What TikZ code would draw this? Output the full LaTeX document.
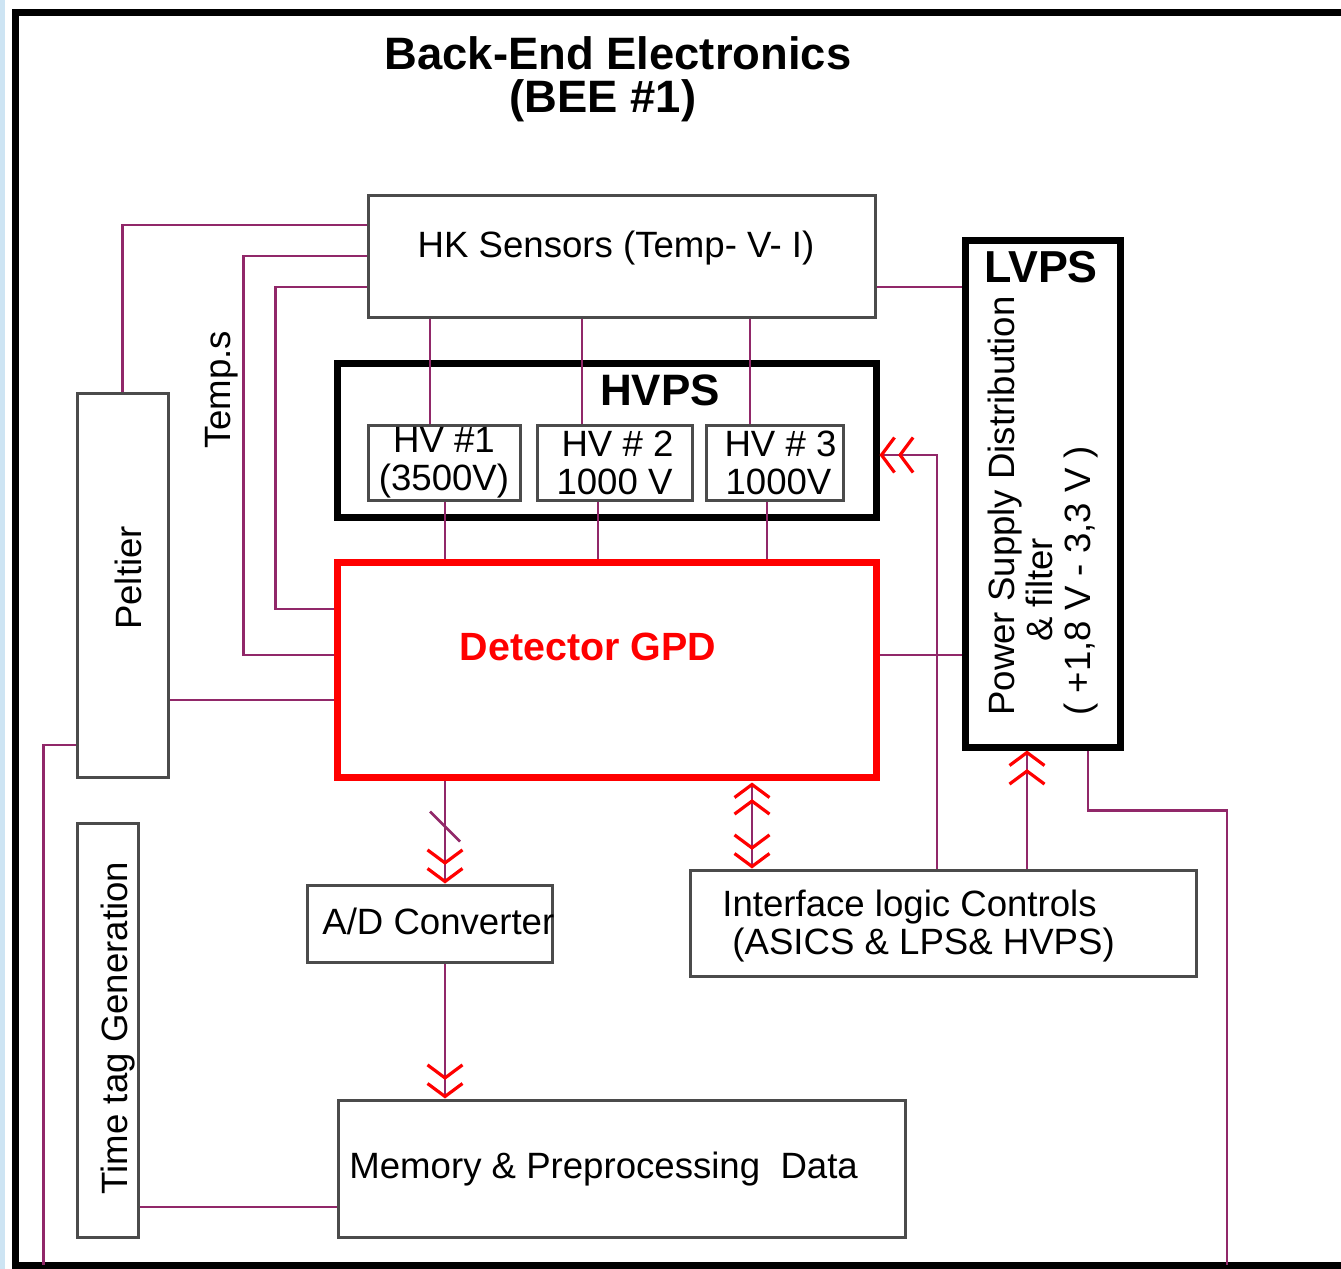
\documentclass[tikz,border=0pt]{standalone}
\usepackage{fontspec}
\setmainfont{Liberation Sans}
\usetikzlibrary{arrows.meta,calc}
\definecolor{wirec}{RGB}{145,40,105}
\definecolor{boxc}{RGB}{75,75,75}
\definecolor{stripc}{RGB}{205,228,243}
\begin{document}
\begin{tikzpicture}[x=0.5pt,y=-0.5pt,
  wire/.style={draw=wirec,line width=1.3pt},
  box/.style={draw=boxc,line width=1.5pt,inner sep=0pt,rectangle},
  thickbox/.style={draw=black,line width=3.5pt,inner sep=0pt,rectangle},
  redbox/.style={draw=red,line width=3.5pt,inner sep=0pt,rectangle},
  txt/.style={inner sep=0pt,font=\fontsize{18.3}{19}\selectfont},
  btxt/.style={inner sep=0pt,font=\fontsize{22.5}{24}\selectfont\bfseries},
  chv/.tip={Straight Barb[color=red,length=6.5pt,width=17.5pt,line width=1.6pt]},
  chev/.style={-{chv[sep=1pt]chv}},
  chevb/.style={{chv[sep=1pt]chv}-{chv[sep=1pt]chv}}
]
\useasboundingbox (0,0) rectangle (1341,1269);
\fill[white] (0,0) rectangle (1341,1269);
\fill[stripc] (0,0) rectangle (5,1269);
% outer frame
\draw[line width=3.5pt] (1350,12) -- (15.5,12) -- (15.5,1265) -- (1350,1265);
\coordinate (fb) at (0,1265);

% title
\node[btxt,font=\fontsize{22.7}{24}\selectfont\bfseries] (t1) at (618,53) {Back-End Electronics};
\node[btxt,font=\fontsize{22.7}{24}\selectfont\bfseries] (t2) at (603,101) {(BEE \#1)};

% boxes
\node[box,minimum width=253.5pt,minimum height=61pt] (hk) at (621.5,256) {};
\node[txt] (hkt) at (616,248) {HK Sensors (Temp- V- I)};

\node[thickbox,minimum width=269.5pt,minimum height=77pt] (hvps) at (606.5,440) {};
\node[btxt,font=\fontsize{22}{24}\selectfont\bfseries] (hvpst) at (660,390) {HVPS};
\node[box,txt,align=center,minimum width=76pt,minimum height=37.5pt] (hv1) at (444,462.5) {HV \#1\\(3500V)};
\node[box,txt,align=center,minimum width=77.5pt,minimum height=37.5pt] (hv2) at (614.5,462.5) {\hspace*{3pt}HV \# 2\\1000 V};
\node[box,txt,align=center,minimum width=68.5pt,minimum height=37.5pt] (hv3) at (774.5,462.5) {\hspace*{6pt}HV \# 3\\\hspace*{4pt}1000V};

\node[redbox,minimum width=269.5pt,minimum height=107.5pt] (det) at (606.5,669.5) {};
\node[inner sep=0pt,text=red,font=\fontsize{19.7}{22}\selectfont\bfseries] (dett) at (588,647) {Detector GPD};

\node[thickbox,minimum width=77.5pt,minimum height=253.5pt] (lvps) at (1042.5,493.5) {};
\node[btxt,font=\fontsize{22.4}{24}\selectfont\bfseries] (lvpst) at (1041,267) {LVPS};
\node[txt,rotate=90,anchor=west,align=left] (lvpsl) at (1043,716) {Power Supply Distribution\\\hspace*{37pt}\& filter\\( +1,8 V - 3,3 V )};

\node[box,minimum width=45.5pt,minimum height=192pt] (pel) at (122.5,585) {};
\node[txt,rotate=90] (pelt) at (128,578) {Peltier};

\node[box,minimum width=30.5pt,minimum height=207pt] (tt) at (107.5,1030) {};
\node[txt,rotate=90] (ttt) at (118,1028) {Time tag Generation};

\node[txt,rotate=90] (temps) at (222,390) {Temp.s};

\node[box,minimum width=122.5pt,minimum height=38.5pt] (ad) at (429.5,923.5) {};
\node[txt,anchor=west] (adt) at (322,921) {A/D Converter};

\node[box,minimum width=253pt,minimum height=53pt] (ifc) at (943,923) {};
\node[txt,anchor=west,align=left] (ifct) at (722,926) {Interface logic Controls\\\hspace*{5pt}(ASICS \& LPS\& HVPS)};

\node[box,minimum width=283.5pt,minimum height=68.5pt] (mem) at (621.5,1168.5) {};
\node[txt,anchor=west] (memt) at (349,1169) {Memory \& Preprocessing\ \ Data};

% connectors
\draw[wire] ([yshift=15.5pt]hk.west) -| (pel.north);
\draw[wire] (hk.west) -- ++(-123,0) |- ([yshift=7.25pt]det.west);
\draw[wire] ([yshift=-15.5pt]hk.west) -- ++(-91,0) |- ([yshift=30.25pt]det.west);

\path ([yshift=-15.5pt]hk.east) coordinate (hkr);
\draw[wire] (hkr) -- (hkr -| lvps.west);

\path ([xshift=-7pt]hv1.north) coordinate (h1t);
\path ([xshift=-16.25pt]hv2.north) coordinate (h2t);
\path ([xshift=-12.25pt]hv3.north) coordinate (h3t);
\draw[wire] (h1t) -- (h1t |- hk.south);
\draw[wire] (h2t) -- (h2t |- hk.south);
\draw[wire] (h3t) -- (h3t |- hk.south);

\path ([xshift=0.5pt]hv1.south) coordinate (h1b);
\path ([xshift=-8.25pt]hv2.south) coordinate (h2b);
\path ([xshift=-3.75pt]hv3.south) coordinate (h3b);
\draw[wire] (h1b) -- (h1b |- det.north);
\draw[wire] (h2b) -- (h2b |- det.north);
\draw[wire] (h3b) -- (h3b |- det.north);

\path ([yshift=7.25pt]det.east) coordinate (dr);
\draw[wire] (dr) -- (dr -| lvps.west);

\path ([yshift=-57.5pt]pel.east) coordinate (pr);
\draw[wire] (pr) -- (pr -| det.west);

\path ([yshift=-80pt]pel.west) coordinate (pl);
\draw[wire] (pl) -- ++(-32,0) coordinate (plx) -- (plx |- fb);

\path ([xshift=22.75pt]lvps.south) coordinate (lb);
\draw[wire] (lb) -- ++(0,60) -- ++(139,0) coordinate (lc) -- (lc |- fb);

\path ([xshift=42pt]ifc.north) coordinate (i1);
\draw[wire,chev] (i1) -- (i1 |- lvps.south);

\path ([yshift=-7.5pt]hvps.east) coordinate (he);
\draw[wire,chev] ([xshift=-3pt]ifc.north) |- (he);

\path ([xshift=72.75pt]det.south) coordinate (d1);
\draw[wire,chevb] (d1) -- (d1 |- ifc.north);

\path ([xshift=-80.75pt]det.south) coordinate (d2);
\draw[wire,chev] (d2) -- (d2 |- ad.north);
\draw[wire] (d2) ++(-15,31) -- ++(30,30);

\path ([xshift=7.75pt]ad.south) coordinate (a1);
\draw[wire,chev] (a1) -- (a1 |- mem.north);

\path ([yshift=-88.5pt]tt.east) coordinate (tr);
\draw[wire] (tr) -- (tr -| mem.west);
\end{tikzpicture}
\end{document}
